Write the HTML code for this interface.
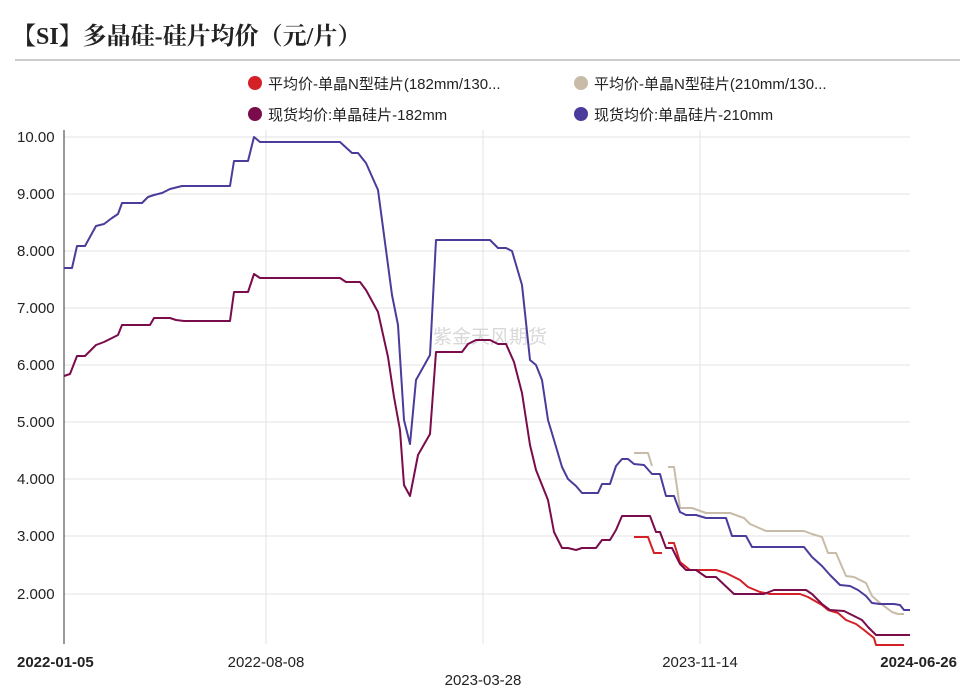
<!DOCTYPE html>
<html><head><meta charset="utf-8"><style>
body{margin:0;background:#fff;width:975px;height:690px;overflow:hidden;font-family:"Liberation Sans","Noto Sans CJK SC",sans-serif}
</style></head><body>
<svg width="975" height="690" xmlns="http://www.w3.org/2000/svg" font-family="Liberation Sans, Noto Sans CJK SC, sans-serif">
<text x="12" y="44" font-size="24" font-weight="bold" fill="#222" font-family="Liberation Serif, Noto Serif CJK SC, serif">【SI】多晶硅-硅片均价（元/片）</text>
<line x1="15" y1="60" x2="960" y2="60" stroke="#999" stroke-width="1"/>
<circle cx="255" cy="83" r="7" fill="#d42027"/><text x="268" y="89" font-size="15" fill="#222">平均价-单晶N型硅片(182mm/130...</text>
<circle cx="581" cy="83" r="7" fill="#c8bca8"/><text x="594" y="89" font-size="15" fill="#222">平均价-单晶N型硅片(210mm/130...</text>
<circle cx="255" cy="114" r="7" fill="#7a0c4c"/><text x="268" y="120" font-size="15" fill="#222">现货均价:单晶硅片-182mm</text>
<circle cx="581" cy="114" r="7" fill="#4b3b9a"/><text x="594" y="120" font-size="15" fill="#222">现货均价:单晶硅片-210mm</text>
<g stroke="#e3e3e3" stroke-width="1">
<line x1="64" y1="137" x2="910" y2="137"/><line x1="64" y1="194" x2="910" y2="194"/><line x1="64" y1="251" x2="910" y2="251"/><line x1="64" y1="308" x2="910" y2="308"/><line x1="64" y1="365" x2="910" y2="365"/><line x1="64" y1="422" x2="910" y2="422"/><line x1="64" y1="479" x2="910" y2="479"/><line x1="64" y1="536" x2="910" y2="536"/><line x1="64" y1="594" x2="910" y2="594"/>
<line x1="266" y1="130" x2="266" y2="644"/><line x1="483" y1="130" x2="483" y2="644"/><line x1="700" y1="130" x2="700" y2="644"/>
</g>
<line x1="64" y1="130" x2="64" y2="644" stroke="#333" stroke-width="1"/>
<g font-size="15" fill="#222">
<text x="17" y="142">10.00</text><text x="17" y="199">9.000</text><text x="17" y="256">8.000</text><text x="17" y="313">7.000</text><text x="17" y="370">6.000</text><text x="17" y="427">5.000</text><text x="17" y="484">4.000</text><text x="17" y="541">3.000</text><text x="17" y="599">2.000</text>
<text x="17" y="667" font-weight="bold">2022-01-05</text>
<text x="266" y="667" text-anchor="middle">2022-08-08</text>
<text x="483" y="685" text-anchor="middle">2023-03-28</text>
<text x="700" y="667" text-anchor="middle">2023-11-14</text>
<text x="957" y="667" text-anchor="end" font-weight="bold">2024-06-26</text>
</g>
<text x="490" y="343" font-size="19" fill="#d8d8d8" text-anchor="middle">紫金天风期货</text>
<g fill="none" stroke-width="2" stroke-linejoin="round">
<polyline stroke="#c8bca8" points="634,453 648,453 652,466"/>
<polyline stroke="#c8bca8" points="668,467 674,467 680,508 692,508 706,513 730,513 744,518 750,524 766,531 804,531 812,534 822,537 828,553 836,553 846,576 854,577 866,583 872,596 880,603 892,612 898,614 904,614"/>
<polyline stroke="#d42027" points="634,537 648,537 654,553 662,553"/>
<polyline stroke="#d42027" points="668,543 674,543 680,562 690,570 716,570 726,573 740,580 748,587 760,592 770,594 800,594 808,597 822,605 828,610 838,613 846,620 856,624 864,630 874,638 876,645 904,645"/>
<polyline stroke="#7a0c4c" points="64,376 70,374 77,356 85,356 96,345 104,342 112,338 118,335 122,325 150,325 154,318 162,318 170,318 176,320 184,321 230,321 234,292 248,292 254,274 260,278 340,278 346,282 360,282 366,290 378,312 388,357 394,397 400,430 404,485 410,496 418,455 430,434 436,352 462,352 468,344 476,340 490,340 498,344 506,344 514,362 522,393 530,445 536,470 542,485 548,500 554,532 562,548 568,548 576,550 582,548 596,548 602,540 610,540 616,530 622,516 650,516 656,532 660,532 666,548 672,548 680,564 686,570 696,570 706,577 716,577 734,594 764,594 774,590 806,590 812,594 822,604 830,610 844,611 850,614 862,620 868,627 876,635 910,635"/>
<polyline stroke="#4b3b9a" points="64,268 72,268 77,246 85,246 96,226 104,224 112,218 118,214 122,203 142,203 148,197 154,195 162,193 170,189 182,186 230,186 234,161 248,161 254,137 260,142 340,142 352,153 358,153 366,163 378,190 392,295 398,325 404,420 410,444 416,380 430,355 436,240 490,240 498,248 506,248 512,251 522,285 530,360 536,365 542,380 548,420 554,440 562,467 568,479 576,486 582,493 598,493 602,484 610,484 616,466 622,459 628,459 634,464 644,465 652,474 660,474 666,496 674,496 680,512 686,515 696,515 706,518 726,518 732,536 746,536 752,547 804,547 812,557 822,566 830,575 840,585 850,586 858,590 866,596 872,603 880,604 894,604 900,605 904,610 910,610"/>
</g>
</svg>
</body></html>
